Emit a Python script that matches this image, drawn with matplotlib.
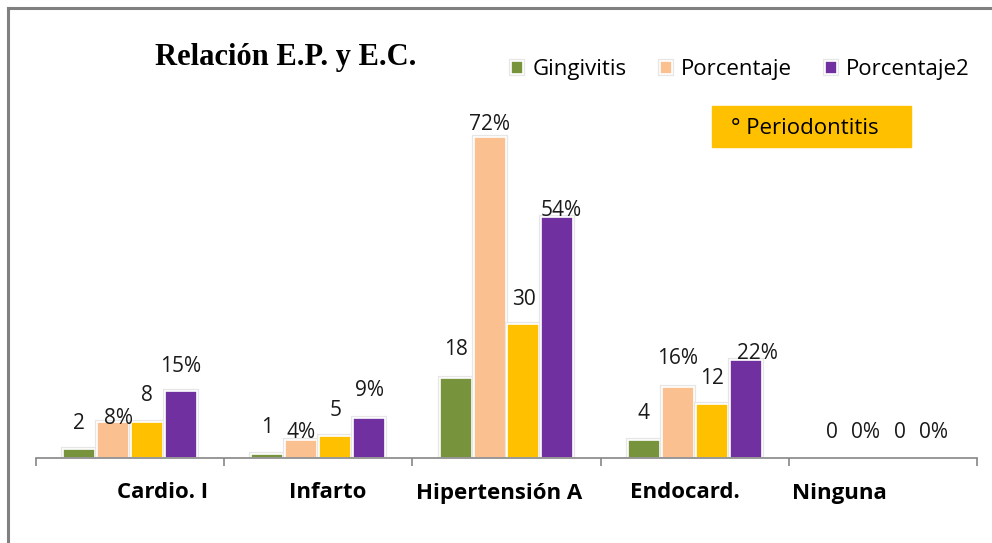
import numpy as np
import matplotlib.pyplot as plt
import matplotlib.patheffects as pe
from matplotlib.lines import Line2D
from matplotlib.patches import Rectangle
from matplotlib import transforms

categories = ["Cardio. I", "Infarto", "Hipertensión A", "Endocard.", "Ninguna"]
gingivitis = [2, 1, 18, 4, 0]
porcentaje = [8, 4, 72, 16, 0]
periodontitis = [8, 5, 30, 12, 0]
porcentaje2 = [15, 9, 54, 22, 0]

series_names = ["Gingivitis", "Porcentaje", "Periodontitis", "Porcentaje2"]
is_percent = [False, True, False, True]
colors = ["#77933C", "#FAC090", "#FFC000", "#7030A0"]

# label offsets above bar top (pixels), the original chart is a bit uneven
label_dy = [[26, 26, 28, 27, 26],
            [4, 8, 12, 28, 26],
            [27, 25, 25, 26, 26],
            [25, 27, 7, 6, 26]]
label_dx = [[0, 0, 0, 0, 0],
            [5, 0, 0, 0, 0],
            [0, 0, 0, 0, 0],
            [0, 0, 4, 12, 0]]
# shift of the category names (in category units)
cat_shift = [0.17, 0.05, -0.04, -0.05, -0.23]

plt.rcParams['font.family'] = ['Open Sans', 'DejaVu Sans']

W, H = 992, 543
fig = plt.figure(figsize=(W / 100, H / 100), dpi=100)
ax = fig.add_axes([36 / W, 1 - 458 / H, 941 / W, 357 / H])

x = np.arange(len(categories))
step = 0.18
width = 0.17
values = [gingivitis, porcentaje, periodontitis, porcentaje2]
shadow = [pe.Stroke(linewidth=3, foreground="#e6e6e6"), pe.Normal()]

bars = []
for k, vals in enumerate(values):
    pos = x + (k - 1.5) * step
    b = ax.bar(pos, vals, width, color=colors[k], edgecolor="white",
               linewidth=1.2, label=series_names[k], zorder=2)
    for r, v in zip(b, vals):
        if v > 0:
            r.set_path_effects(shadow)
        else:
            r.set_visible(False)
    bars.append(b)
    for i, v in enumerate(vals):
        txt = f"{v}%" if is_percent[k] else f"{v}"
        ax.annotate(txt, xy=(pos[i], v),
                    xytext=(label_dx[k][i] * 0.72, label_dy[k][i] * 0.72),
                    textcoords="offset points", ha="center", va="center",
                    fontsize=15, color="#1a1a1a", zorder=3)

ax.set_xlim(-0.5, len(categories) - 0.5)
ax.set_ylim(0, 80)
for s in ["left", "top", "right"]:
    ax.spines[s].set_visible(False)
ax.spines["bottom"].set_color("#868686")
ax.spines["bottom"].set_linewidth(1.2)
ax.set_yticks([])
ax.set_xticks(np.arange(-0.5, len(categories), 1))
ax.set_xticklabels([])
ax.tick_params(axis="x", direction="out", length=5.5, width=1.2, color="#868686")

trans = transforms.blended_transform_factory(ax.transData, ax.transAxes)
for i, name in enumerate(categories):
    ax.text(i + cat_shift[i], -(493 - 458) / 357, name, transform=trans,
            ha="center", va="center", fontsize=16, fontweight="bold",
            color="black")

fig.text(286 / W, 1 - 57 / H, "Relación E.P. y E.C.", ha="center", va="center",
         family="Liberation Serif", fontweight="bold", fontsize=22)

handles = [bars[0][0], bars[1][0], bars[3][0]]
fig.legend(handles, ["Gingivitis", "Porcentaje", "Porcentaje2"],
           loc="center left", bbox_to_anchor=(500 / W, 1 - 70 / H),
           ncol=3, frameon=False, fontsize=16, borderpad=0,
           handlelength=0.55, handleheight=0.55, handletextpad=0.4,
           columnspacing=1.5)

# the separate Periodontitis box
fig.add_artist(Rectangle((712 / W, 1 - 147 / H), 199 / W, 41 / H,
                         transform=fig.transFigure, color=colors[2]))
fig.text(731 / W, 1 - 128 / H, "° Periodontitis", ha="left", va="center",
         fontsize=16, color="black")

# frame lines of the picture
fig.add_artist(Line2D([8 / W, 1], [1 - 8 / H, 1 - 8 / H],
                      transform=fig.transFigure, color="#808080", lw=2.2))
fig.add_artist(Line2D([8 / W, 8 / W], [0, 1 - 8 / H],
                      transform=fig.transFigure, color="#808080", lw=2.2))

fig.savefig("out.png", dpi=100, facecolor="white")
